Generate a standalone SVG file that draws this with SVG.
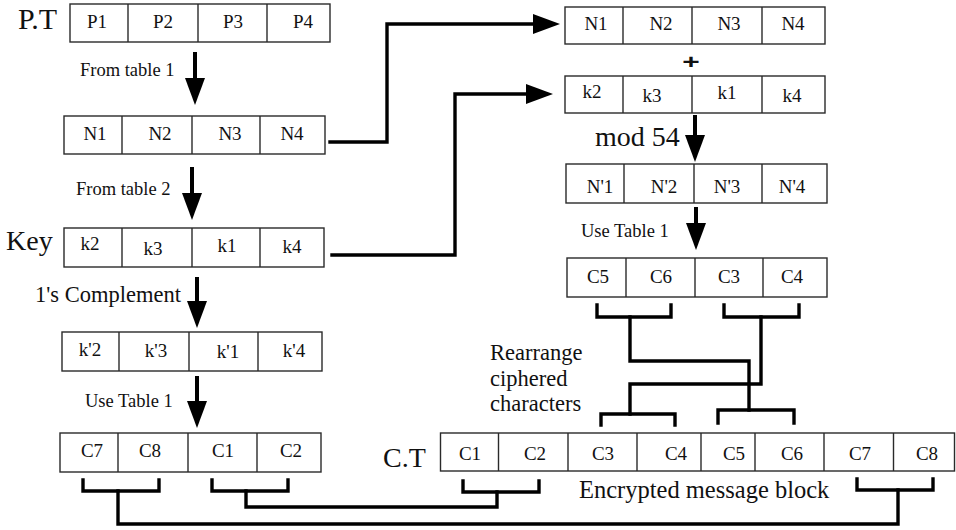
<svg xmlns="http://www.w3.org/2000/svg" width="956" height="530" viewBox="0 0 956 530" font-family="'Liberation Serif', 'DejaVu Serif', serif">
  <style>
    .cell { fill: #ffffff; stroke: #2a2a2a; stroke-width: 1.4; }
    .div { stroke: #2a2a2a; stroke-width: 1.4; }
    text { font-family: "Liberation Serif", "DejaVu Serif", serif; fill: #111; }
    .lbl { font-size: 19px; text-anchor: middle; }
    .note { font-size: 18.5px; }
    .big { font-size: 28px; }
    .mid { font-size: 22.5px; }
    .plus { font-family: "Liberation Sans", "DejaVu Sans", sans-serif; font-weight: bold; font-size: 26px; text-anchor: middle; }
    .wire { fill: none; stroke: #000; stroke-width: 3.4; stroke-linejoin: miter; stroke-linecap: square; }
    .shaft { fill: none; stroke: #000; stroke-width: 4; }
  </style>
  <defs>
    <marker id="head" markerUnits="userSpaceOnUse" markerWidth="28" markerHeight="20" viewBox="0 0 28 20" refX="2" refY="10" orient="auto">
      <path d="M0,0 L27,10 L0,20 z" fill="#000"/>
    </marker>
  </defs>

  <!-- side labels -->
  <text x="18" y="29" font-size="30">P.T</text>
  <text class="big" x="6" y="250">Key</text>
  <text class="big" x="383" y="467">C.T</text>

  <!-- plain text row -->
  <g id="pt-row">
    <rect class="cell" x="70" y="4" width="260" height="38"/>
    <line class="div" x1="128" y1="4" x2="128" y2="42"/>
    <line class="div" x1="198" y1="4" x2="198" y2="42"/>
    <line class="div" x1="267" y1="4" x2="267" y2="42"/>
    <text class="lbl" x="97" y="28">P1</text>
    <text class="lbl" x="163" y="28">P2</text>
    <text class="lbl" x="233" y="28">P3</text>
    <text class="lbl" x="303" y="28">P4</text>
  </g>

  <!-- numeric row -->
  <g id="n-row">
    <rect class="cell" x="64" y="116" width="261" height="38"/>
    <line class="div" x1="122" y1="116" x2="122" y2="154"/>
    <line class="div" x1="192" y1="116" x2="192" y2="154"/>
    <line class="div" x1="260" y1="116" x2="260" y2="154"/>
    <text class="lbl" x="95" y="140">N1</text>
    <text class="lbl" x="160" y="140">N2</text>
    <text class="lbl" x="230" y="140">N3</text>
    <text class="lbl" x="292" y="140">N4</text>
  </g>

  <!-- key row -->
  <g id="key-row">
    <rect class="cell" x="64" y="228" width="260" height="39"/>
    <line class="div" x1="122" y1="228" x2="122" y2="267"/>
    <line class="div" x1="192" y1="228" x2="192" y2="267"/>
    <line class="div" x1="260" y1="228" x2="260" y2="267"/>
    <text class="lbl" x="90" y="250">k2</text>
    <text class="lbl" x="153" y="255">k3</text>
    <text class="lbl" x="227" y="252">k1</text>
    <text class="lbl" x="292" y="253">k4</text>
  </g>

  <!-- complemented key row -->
  <g id="kc-row">
    <rect class="cell" x="62" y="332" width="260" height="39"/>
    <line class="div" x1="119" y1="332" x2="119" y2="371"/>
    <line class="div" x1="189" y1="332" x2="189" y2="371"/>
    <line class="div" x1="258" y1="332" x2="258" y2="371"/>
    <text class="lbl" x="90" y="356">k'2</text>
    <text class="lbl" x="156" y="357">k'3</text>
    <text class="lbl" x="228" y="358">k'1</text>
    <text class="lbl" x="294" y="357">k'4</text>
  </g>

  <!-- left cipher row -->
  <g id="c-left-row">
    <rect class="cell" x="60" y="433" width="261" height="39"/>
    <line class="div" x1="118" y1="433" x2="118" y2="472"/>
    <line class="div" x1="188" y1="433" x2="188" y2="472"/>
    <line class="div" x1="257" y1="433" x2="257" y2="472"/>
    <text class="lbl" x="92" y="457">C7</text>
    <text class="lbl" x="150" y="457">C8</text>
    <text class="lbl" x="223" y="457">C1</text>
    <text class="lbl" x="291" y="457">C2</text>
  </g>

  <!-- right: numeric row -->
  <g id="n-right-row">
    <rect class="cell" x="565" y="7" width="260" height="37"/>
    <line class="div" x1="623" y1="7" x2="623" y2="44"/>
    <line class="div" x1="692" y1="7" x2="692" y2="44"/>
    <line class="div" x1="762" y1="7" x2="762" y2="44"/>
    <text class="lbl" x="596" y="30">N1</text>
    <text class="lbl" x="661" y="30">N2</text>
    <text class="lbl" x="729" y="30">N3</text>
    <text class="lbl" x="793" y="30">N4</text>
  </g>

  <!-- right: key row -->
  <g id="k-right-row">
    <rect class="cell" x="565" y="76" width="260" height="37"/>
    <line class="div" x1="623" y1="76" x2="623" y2="113"/>
    <line class="div" x1="692" y1="76" x2="692" y2="113"/>
    <line class="div" x1="762" y1="76" x2="762" y2="113"/>
    <text class="lbl" x="592" y="98">k2</text>
    <text class="lbl" x="652" y="102">k3</text>
    <text class="lbl" x="727" y="99">k1</text>
    <text class="lbl" x="792" y="102">k4</text>
  </g>

  <!-- right: sum row -->
  <g id="nsum-row">
    <rect class="cell" x="566" y="164" width="261" height="39"/>
    <line class="div" x1="624" y1="164" x2="624" y2="203"/>
    <line class="div" x1="694" y1="164" x2="694" y2="203"/>
    <line class="div" x1="762" y1="164" x2="762" y2="203"/>
    <text class="lbl" x="600" y="193">N'1</text>
    <text class="lbl" x="664" y="193">N'2</text>
    <text class="lbl" x="727" y="193">N'3</text>
    <text class="lbl" x="792" y="193">N'4</text>
  </g>

  <!-- right cipher row -->
  <g id="c-right-row">
    <rect class="cell" x="567" y="258" width="260" height="39"/>
    <line class="div" x1="626" y1="258" x2="626" y2="297"/>
    <line class="div" x1="695" y1="258" x2="695" y2="297"/>
    <line class="div" x1="763" y1="258" x2="763" y2="297"/>
    <text class="lbl" x="598" y="283">C5</text>
    <text class="lbl" x="661" y="283">C6</text>
    <text class="lbl" x="729" y="283">C3</text>
    <text class="lbl" x="792" y="283">C4</text>
  </g>

  <!-- final cipher text block -->
  <g id="ct-row">
    <rect class="cell" x="440.5" y="433" width="514" height="38"/>
    <line class="div" x1="498.5" y1="433" x2="498.5" y2="471"/>
    <line class="div" x1="568" y1="433" x2="568" y2="471"/>
    <line class="div" x1="637" y1="433" x2="637" y2="471"/>
    <line class="div" x1="701" y1="433" x2="701" y2="471"/>
    <line class="div" x1="755" y1="433" x2="755" y2="471"/>
    <line class="div" x1="824" y1="433" x2="824" y2="471"/>
    <line class="div" x1="893.5" y1="433" x2="893.5" y2="471"/>
    <text class="lbl" x="470" y="460">C1</text>
    <text class="lbl" x="535" y="460">C2</text>
    <text class="lbl" x="603" y="460">C3</text>
    <text class="lbl" x="676" y="460">C4</text>
    <text class="lbl" x="734" y="460">C5</text>
    <text class="lbl" x="792" y="460">C6</text>
    <text class="lbl" x="860" y="460">C7</text>
    <text class="lbl" x="927" y="460">C8</text>
  </g>

  <!-- step labels -->
  <text class="note" x="80" y="76">From table 1</text>
  <text class="note" x="76" y="195">From table 2</text>
  <text class="mid" x="35" y="302">1's Complement</text>
  <text class="note" x="85" y="407">Use Table 1</text>
  <text class="plus" x="691" y="71" transform="translate(691 62) scale(1.15 0.8) translate(-691 -62)">+</text>
  <text class="big" x="595" y="146">mod 54</text>
  <text class="note" x="581" y="237">Use Table 1</text>
  <text class="mid" x="490" y="360">Rearrange</text>
  <text class="mid" x="490" y="386">ciphered</text>
  <text class="mid" x="490" y="411">characters</text>
  <text x="579" y="498" font-size="24.5">Encrypted message block</text>

  <!-- connectors -->
  <g id="connectors">
    <line class="shaft" x1="195" y1="52" x2="195" y2="80" marker-end="url(#head)"/>
    <line class="shaft" x1="192" y1="167" x2="192" y2="195" marker-end="url(#head)"/>
    <line class="shaft" x1="197" y1="277" x2="197" y2="303" marker-end="url(#head)"/>
    <line class="shaft" x1="197" y1="376" x2="197" y2="403" marker-end="url(#head)"/>
    <line class="shaft" x1="695" y1="115" x2="695" y2="137" marker-end="url(#head)"/>
    <line class="shaft" x1="696" y1="207" x2="696" y2="225" marker-end="url(#head)"/>

    <path class="wire" d="M330 142 H387 V24 H535" marker-end="url(#head)"/>
    <path class="wire" d="M332 255 H455 V94 H528" marker-end="url(#head)"/>

    <!-- C5 C6 moved to C.T positions 5-6 -->
    <path class="wire" d="M597 305 V317 H671 V305"/>
    <path class="wire" d="M630 317 V361 H749 V410"/>
    <path class="wire" d="M718 423 V410 H794 V423"/>

    <!-- C3 C4 moved to C.T positions 3-4 -->
    <path class="wire" d="M724 305 V317 H799 V305"/>
    <path class="wire" d="M761 317 V384 H630 V414"/>
    <path class="wire" d="M601 425 V414 H675 V425"/>

    <!-- C1 C2 moved to C.T positions 1-2 -->
    <path class="wire" d="M212 480 V491 H288 V480"/>
    <path class="wire" d="M246 491 V507 H497 V492"/>
    <path class="wire" d="M463 481 V492 H539 V481"/>

    <!-- C7 C8 moved to C.T positions 7-8 -->
    <path class="wire" d="M83 480 V491 H159 V480"/>
    <path class="wire" d="M118 491 V524 H898 V490"/>
    <path class="wire" d="M857 479 V490 H933 V479"/>
  </g>
</svg>
